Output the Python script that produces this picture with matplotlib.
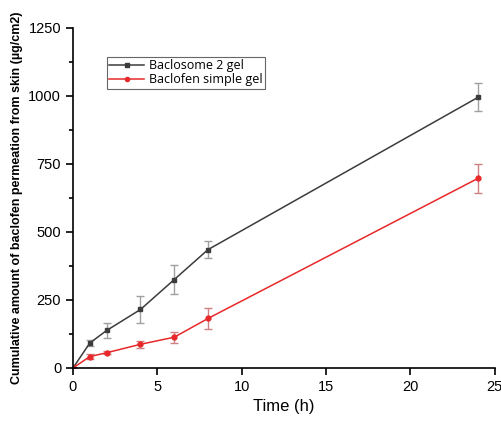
import matplotlib
matplotlib.use("Agg")
import matplotlib.pyplot as plt
from matplotlib.ticker import MultipleLocator
from matplotlib.lines import Line2D

time_h = [0, 1, 2, 4, 6, 8, 24]
baclosome = [0, 92, 138, 215, 325, 435, 995]
baclosome_err = [0, 10, 28, 48, 54, 32, 52]
simple_gel = [0, 42, 56, 87, 113, 182, 697]
simple_err = [0, 10, 6, 13, 21, 38, 54]

plt.rcParams['font.family'] = ['Liberation Sans', 'DejaVu Sans']

fig = plt.figure(figsize=(5.01, 4.21), dpi=100)
ax = fig.add_axes([0.1457, 0.126, 0.842, 0.8075])

c1, c2 = '#3c3c3c', '#e8282a'
ax.errorbar(time_h, baclosome, yerr=baclosome_err, color=c1, marker='s', ms=3.5,
            lw=1.1, ecolor='#a0a0a0', elinewidth=1, capsize=3, capthick=1)
ax.errorbar(time_h, simple_gel, yerr=simple_err, color=c2, marker='o', ms=3.5,
            lw=1.1, ecolor='#d08080', elinewidth=1, capsize=3, capthick=1)

ax.set_xlim(0, 25)
ax.set_ylim(0, 1250)
ax.xaxis.set_major_locator(MultipleLocator(5))
ax.yaxis.set_major_locator(MultipleLocator(250))
ax.yaxis.set_minor_locator(MultipleLocator(125))
ax.spines['top'].set_visible(False)
ax.spines['right'].set_visible(False)
for s in ('left', 'bottom'):
    ax.spines[s].set_linewidth(1.2)
ax.tick_params(direction='out', length=5, width=1.2, labelsize=10.5)
ax.tick_params(which='minor', direction='out', length=3, width=1.2)

ax.set_xlabel('Time (h)', fontsize=12)
ax.set_ylabel('Cumulative amount of baclofen permeation from skin (µg/cm2)', fontsize=9.0, fontweight='bold')

handles = [Line2D([], [], color=c1, marker='s', ms=3, lw=1.1),
           Line2D([], [], color=c2, marker='o', ms=3, lw=1.1)]
leg = ax.legend(handles, ['Baclosome 2 gel', 'Baclofen simple gel'],
                loc='upper left', bbox_to_anchor=(0.08, 0.915), frameon=True,
                fancybox=False, edgecolor='#404040', handlelength=2.8, borderpad=0.2,
                labelspacing=0.05, handletextpad=0.35, borderaxespad=0,
                prop={'family': ['Open Sans', 'DejaVu Sans'], 'size': 9.0})
leg.get_frame().set_linewidth(0.8)

fig.savefig('out.png', dpi=100)
